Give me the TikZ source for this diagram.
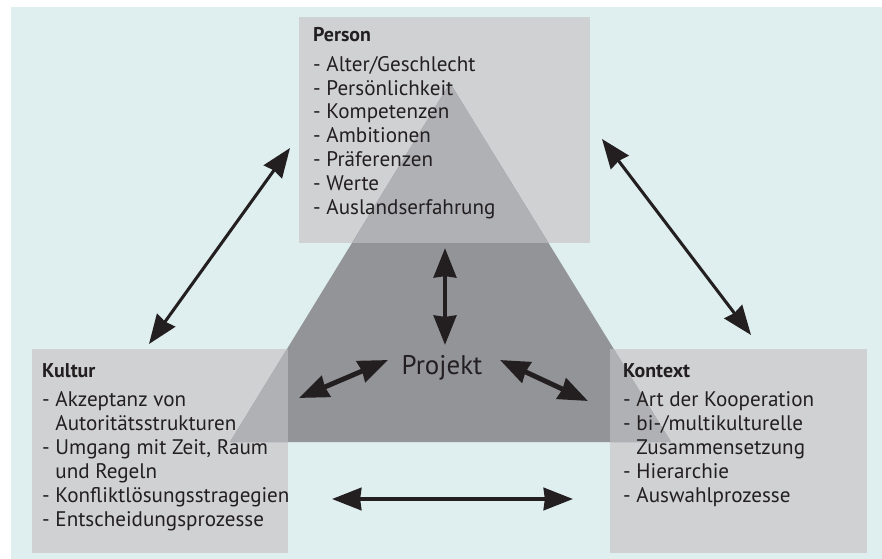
\documentclass[tikz,border=0pt]{standalone}
\usepackage{fontspec}
\setmainfont{PT Sans}
\usetikzlibrary{arrows.meta, calc}
\definecolor{bgblue}{RGB}{223,238,238}
\definecolor{boxgray}{RGB}{208,209,211}
\definecolor{trigray}{RGB}{147,148,152}
\definecolor{midgray}{RGB}{176,177,180}
\definecolor{ink}{RGB}{35,31,32}
\tikzset{
    box/.style={fill=boxgray, inner sep=0pt, anchor=north west},
    items/.style={anchor=north west, inner sep=0pt, align=left, text=ink, font=\fontsize{18}{20.4}\selectfont},
    longarrow/.style={draw=ink, line width=2.6pt, {Stealth[length=25pt, width=19pt, inset=1.5pt]}-{Stealth[length=25pt, width=19pt, inset=1.5pt]}},
    shortarrow/.style={draw=ink, line width=4.2pt, {Stealth[length=25pt, width=19pt, inset=1pt]}-{Stealth[length=25pt, width=19pt, inset=1pt]}},
}
\newcommand{\cont}{\hphantom{- }}
\newcommand{\boxtitle}[1]{{\bfseries\fontsize{17}{20}\selectfont #1}}

\begin{document}
\begin{tikzpicture}[x=0.03cm, y=-0.03cm]
    \useasboundingbox (0,0) rectangle (882,559);
    \fill[white] (0,0) rectangle (882,559);
    \fill[bgblue] (11,7) rectangle (882,559);

    \node[box, minimum width=8.73cm, minimum height=6.78cm] (person) at (299,17) {};
    \node[box, minimum width=7.68cm, minimum height=6.12cm] (kultur) at (32,349) {};
    \node[box, minimum width=7.71cm, minimum height=6.12cm] (kontext) at (610,349) {};

    \coordinate (apex) at (450,83);
    \coordinate (baseL) at (230,442);
    \coordinate (baseR) at (671,442);
    \fill[trigray] (apex) -- (baseL) -- (baseR) -- cycle;
    \begin{scope}
        \clip (apex) -- (baseL) -- (baseR) -- cycle;
        \foreach \b in {person, kultur, kontext}
            \fill[midgray] (\b.north west) rectangle (\b.south east);
    \end{scope}

    \node[items] (persontext) at (313,27) {\boxtitle{Person}\\[5pt]
        - Alter/Geschlecht\\- Persönlichkeit\\- Kompetenzen\\- Ambitionen\\- Präferenzen\\- Werte\\- Auslandserfahrung};
    \node[items] (kulturtext) at (42,363) {\boxtitle{Kultur}\\[5pt]
        - Akzeptanz von\\\cont Autoritätsstrukturen\\- Umgang mit Zeit, Raum\\\cont und Regeln\\- Konfliktlösungsstragegien\\- Entscheidungsprozesse};
    \node[items] (kontexttext) at (623,363) {\boxtitle{Kontext}\\[5pt]
        - Art der Kooperation\\- bi-/multikulturelle\\\cont Zusammensetzung\\- Hierarchie\\- Auswahlprozesse};

    \node[anchor=base, inner sep=0pt, text=ink, font=\fontsize{23}{26}\selectfont] (projekt) at (442,374) {Projekt};

    \coordinate (pk1) at (290,148);
    \coordinate (pk2) at (149,344);
    \coordinate (px1) at (602,139);
    \coordinate (px2) at (751,335);
    \coordinate (kk1) at (332,499);
    \coordinate (kk2) at (573,499);
    \coordinate (pp1) at (445,248);
    \coordinate (pp2) at (445,345);
    \coordinate (kp1) at (299,398);
    \coordinate (kp2) at (388,360);
    \coordinate (xp1) at (500,360);
    \coordinate (xp2) at (588,401);

    \draw[longarrow] (pk1) -- (pk2);
    \draw[longarrow] (px1) -- (px2);
    \draw[shortarrow, line width=3.4pt] (kk1) -- (kk2);
    \draw[shortarrow] (pp1) -- (pp2);
    \draw[shortarrow] (kp1) -- (kp2);
    \draw[shortarrow] (xp1) -- (xp2);
\end{tikzpicture}
\end{document}
